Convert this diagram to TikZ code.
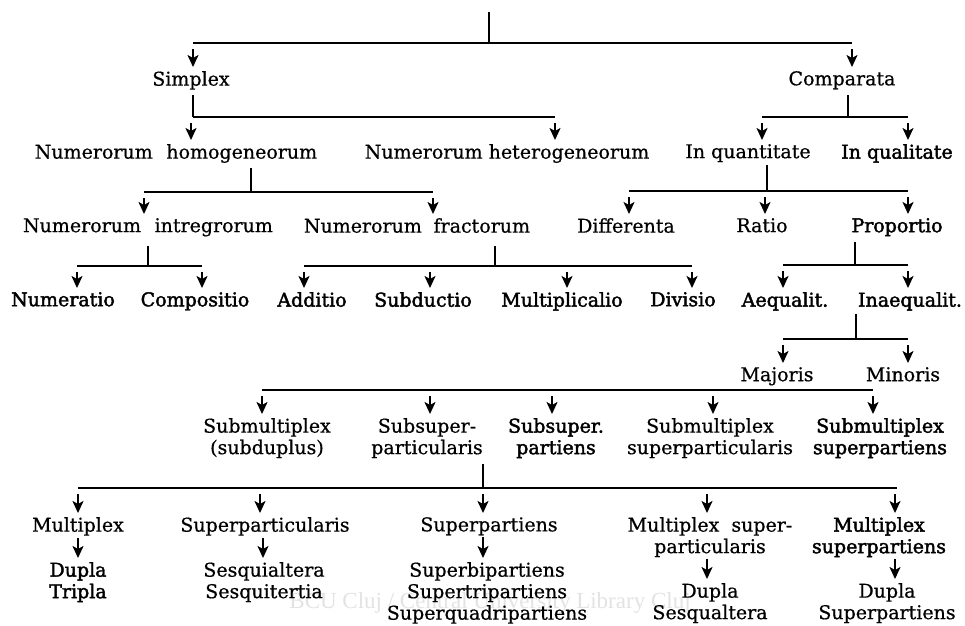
\documentclass[tikz,border=0pt]{standalone}
\usepackage{fontspec}
\newfontfamily\dvs[FakeBold=0.6]{DejaVu Serif}
\newfontfamily\dvsb[FakeBold=2]{DejaVu Serif}
\newfontfamily\wmfont{Liberation Serif}
\usetikzlibrary{arrows.meta}
\begin{document}
\begin{tikzpicture}[x=1pt,y=-1pt,
  lbl/.style={inner sep=0pt, anchor=north, align=center, font={\dvs\fontsize{19}{21.5}\selectfont}},
  lblb/.style={lbl, font={\dvsb\fontsize{19}{21.5}\selectfont}},
  bus/.style={line width=1.1pt},
  arr/.style={line width=1.8pt, -{Stealth[length=12pt,width=11pt,inset=3pt]}, shorten <=6pt, shorten >=4pt},
  darr/.style={arr, shorten <=2pt},
  wm/.style={inner sep=0pt, anchor=base, text=gray!22, font={\wmfont\fontsize{23}{26}\selectfont}}
]
\useasboundingbox (0,0) rectangle (965,625);
\fill[white] (0,0) rectangle (965,625);
\node[wm] (wmark) at (490,608) {BCU Cluj / Central University Library Cluj};

% ---- nodes ----
\node[lbl]  (simplex)   at (191,71) {Simplex};
\node[lbl]  (comparata) at (842,71) {Comparata};

\node[lbl]  (homog)  at (176,144) {Numerorum\hspace{0.4em} homogeneorum};
\node[lbl]  (hetero) at (507,144) {Numerorum heterogeneorum};
\node[lbl]  (quant)  at (748,144) {In quantitate};
\node[lblb] (qual)   at (897,144) {In qualitate};

\node[lbl]  (intreg) at (148,218) {Numerorum\hspace{0.4em} intregrorum};
\node[lbl]  (fract)  at (417,218) {Numerorum\hspace{0.3em} fractorum};
\node[lbl]  (diff)   at (626,218) {Differenta};
\node[lbl]  (ratio)  at (762,218) {Ratio};
\node[lblb] (prop)   at (897,218) {Proportio};

\node[lblb] (numeratio)  at (63,292)  {Numeratio};
\node[lblb] (compositio) at (195,292) {Compositio};
\node[lblb] (additio)    at (312,292) {Additio};
\node[lblb] (subductio)  at (423,292) {Subductio};
\node[lblb] (multipl)    at (562,292) {Multiplicalio};
\node[lblb] (divisio)    at (683,292) {Divisio};
\node[lblb] (aequal)     at (785,292) {Aequalit.};
\node[lblb] (inaequal)   at (910,292) {Inaequalit.};

\node[lbl] (majoris) at (777,367) {Majoris};
\node[lbl] (minoris) at (903,367) {Minoris};

\node[lbl]  (sm1)  at (267,418) {Submultiplex\\(subduplus)};
\node[lbl]  (ssp)  at (427,418) {Subsuper-\\particularis};
\node[lblb] (ssq)  at (556,418) {Subsuper.\\partiens};
\node[lbl]  (smsp) at (710,418) {Submultiplex\\superparticularis};
\node[lblb] (smsq) at (880,418) {Submultiplex\\superpartiens};

\node[lbl]  (mp)   at (78,517)  {Multiplex};
\node[lbl]  (spc)  at (265,517) {Superparticularis};
\node[lbl]  (spt)  at (489,517) {Superpartiens};
\node[lbl]  (mspc) at (710,517) {Multiplex\ \ super-\\particularis};
\node[lblb] (mspt) at (879,517) {Multiplex\\superpartiens};

\node[lblb] (dt)   at (78,562)  {Dupla\\Tripla};
\node[lbl]  (ses)  at (264,562) {Sesquialtera\\Sesquitertia};
\node[lbl]  (sbp)  at (487,562) {Superbipartiens\\Supertripartiens\\Superquadripartiens};
\node[lbl]  (ds)   at (710,583) {Dupla\\Sesqualtera};
\node[lbl]  (dsp)  at (887,583) {Dupla\\Superpartiens};

% ---- bars and stems ----
\coordinate (root) at (489,12);
\draw[bus] (193,43) -- (852,43);
\draw[bus] (root) -- (489,43);

\coordinate (s1) at (193,117);
\draw[bus] (193,117) -- (555,117);
\draw[bus, shorten <=5pt] (simplex.south -| s1) -- (s1);

\coordinate (s2) at (848,117);
\draw[bus] (762,117) -- (908,117);
\draw[bus, shorten <=6pt] (comparata.south -| s2) -- (s2);

\coordinate (s3) at (251,192);
\draw[bus] (144,192) -- (433,192);
\draw[bus, shorten <=5pt] (homog.south -| s3) -- (s3);

\coordinate (s4) at (767,191);
\draw[bus] (629,191) -- (908,191);
\draw[bus, shorten <=3pt] (quant.south -| s4) -- (s4);

\coordinate (s5) at (148,266);
\draw[bus] (77,266) -- (202,266);
\draw[bus, shorten <=9pt] (intreg.south -| s5) -- (s5);

\coordinate (s6) at (495,266);
\draw[bus] (304,266) -- (692,266);
\draw[bus, shorten <=13pt] (fract.south -| s6) -- (s6);

\coordinate (s7) at (855,265);
\draw[bus] (783,265) -- (908,265);
\draw[bus, shorten <=6pt] (prop.south -| s7) -- (s7);

\coordinate (s8) at (856,339);
\draw[bus] (783,339) -- (908,339);
\draw[bus, shorten <=3pt] (inaequal.south -| s8) -- (s8);

\draw[bus] (262,390) -- (873,390);

\coordinate (s10) at (483,488);
\draw[bus] (78,488) -- (897,488);
\draw[bus, shorten <=6pt] (ssp.south -| s10) -- (s10);

% ---- arrows from bars ----
\foreach \x/\y/\n in {193/43/simplex, 852/43/comparata,
  191/117/homog, 555/117/hetero, 762/117/quant, 908/117/qual,
  144/192/intreg, 433/192/fract,
  629/191/diff, 765/191/ratio, 908/191/prop,
  77/266/numeratio, 202/266/compositio,
  304/266/additio, 430/266/subductio, 567/266/multipl, 692/266/divisio,
  783/265/aequal, 908/265/inaequal,
  783/339/majoris, 908/339/minoris,
  262/390/sm1, 430/390/ssp, 552/390/ssq, 713/390/smsp, 873/390/smsq,
  78/488/mp, 260/488/spc, 483/488/spt, 707/488/mspc, 895/488/mspt}
  {\draw[arr] (\x,\y) coordinate (a-\n) -- (a-\n |- \n.north);}

% ---- direct arrows ----
\coordinate (x1) at (78,0);
\coordinate (x2) at (263,0);
\coordinate (x3) at (483,0);
\coordinate (x4) at (707,0);
\coordinate (x5) at (895,0);
\draw[darr] (mp.south -| x1) -- (dt.north -| x1);
\draw[darr] (spc.south -| x2) -- (ses.north -| x2);
\draw[darr] (spt.south -| x3) -- (sbp.north -| x3);
\draw[darr] (mspc.south -| x4) -- (ds.north -| x4);
\draw[darr] (mspt.south -| x5) -- (dsp.north -| x5);
\end{tikzpicture}
\end{document}
